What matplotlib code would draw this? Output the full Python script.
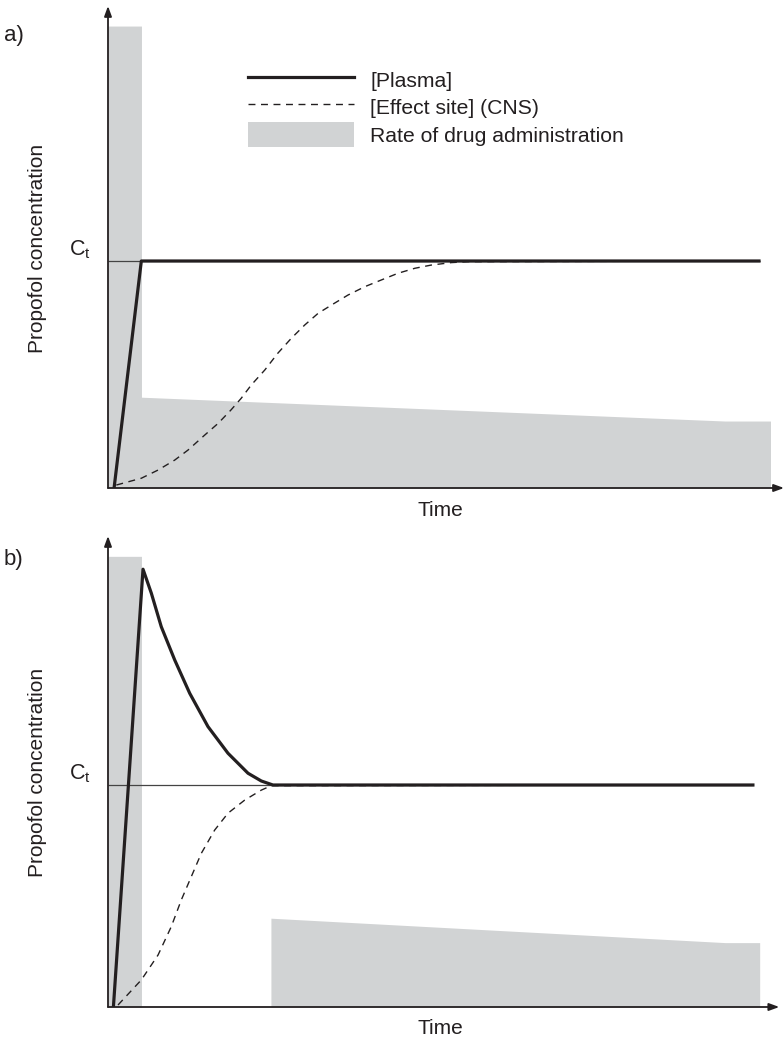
import matplotlib
matplotlib.use("Agg")
import matplotlib.pyplot as plt
from matplotlib.lines import Line2D
from matplotlib.patches import Patch

plt.rcParams['font.family'] = ['Liberation Sans', 'DejaVu Sans']
plt.rcParams['mathtext.fontset'] = 'custom'
plt.rcParams['mathtext.rm'] = 'Liberation Sans'
plt.rcParams['mathtext.it'] = 'Liberation Sans'

INK = '#231f20'
GREY = '#d1d3d4'

# ---- data (time in arbitrary units, concentration relative to Ct = 1) ----
ct = 1.0

# panel a: bolus then infusion
a_rate_t = [0, 4.95, 4.95, 91.3, 98.0]
a_rate_r = [2.035, 2.035, 0.40, 0.295, 0.295]
a_plasma_t = [0.9, 4.93, 96.3]
a_plasma_c = [0.0, 1.0, 1.0]
a_effect_t = [1.23, 4.93, 7.40, 9.87, 11.83, 14.3, 16.3, 18.2, 19.7, 21.2, 23.2, 25.1,
              27.1, 29.1, 31.1, 33.5, 35.5, 38.0, 40.4, 42.9, 45.4, 47.8, 50.8, 53.3, 96.5]
a_effect_c = [0.013, 0.043, 0.079, 0.123, 0.167, 0.233, 0.285, 0.344, 0.395, 0.454, 0.520,
              0.593, 0.659, 0.718, 0.770, 0.814, 0.850, 0.887, 0.916, 0.946, 0.968, 0.982,
              0.993, 0.997, 1.0]
a_ct_end = 96.5

# panel b: larger bolus, pause, then infusion
b_rate_t = [0, 4.95, 4.95, 24.1, 24.1, 91.3, 96.4]
b_rate_r = [2.03, 2.03, 0.0, 0.0, 0.40, 0.29, 0.29]
b_plasma_t = [0.8, 5.18, 6.41, 7.88, 9.87, 12.09, 14.79, 17.75, 20.71, 22.68, 24.4, 95.4]
b_plasma_c = [0.0, 1.972, 1.864, 1.713, 1.563, 1.413, 1.263, 1.143, 1.053, 1.018, 1.0, 1.0]
b_effect_t = [1.48, 4.93, 7.40, 9.36, 10.84, 12.32, 13.80, 15.78, 17.75, 20.22, 22.68,
              24.16, 95.4]
b_effect_c = [0.009, 0.122, 0.234, 0.362, 0.482, 0.587, 0.692, 0.797, 0.873, 0.932, 0.977,
              0.997, 1.0]
b_ct_end = 95.4

W, H = 784, 1039
fig = plt.figure(figsize=(W / 100, H / 100), dpi=100)


def px_axes(left, top, right, bottom):
    return fig.add_axes([left / W, 1 - bottom / H, (right - left) / W, (bottom - top) / H])


def draw_panel(ax, rate_t, rate_r, plasma_t, plasma_c, effect_t, effect_c, ct_end,
               ytop, xarrow):
    ax.set_xlim(0, 100)
    ax.set_ylim(0, ytop)
    for s in ax.spines.values():
        s.set_visible(False)
    ax.set_xticks([])
    ax.set_yticks([])
    ax.patch.set_alpha(0)

    ax.fill_between(rate_t, 0, rate_r, color=GREY, lw=0, zorder=1)
    ax.hlines(ct, 0, ct_end, color='#444444', lw=0.9, zorder=2)
    ax.plot(effect_t, effect_c, color=INK, lw=1.0, ls=(0, (5, 4)), zorder=3)
    ax.plot(plasma_t, plasma_c, color=INK, lw=2.3, solid_joinstyle='round', zorder=4)

    arrow = dict(arrowstyle='-|>,head_length=0.6,head_width=0.22', color=INK,
                 lw=1.3, shrinkA=0, shrinkB=0)
    ax.annotate('', xy=(0, 1), xytext=(0, 0), xycoords='axes fraction',
                arrowprops=arrow, annotation_clip=False)
    ax.annotate('', xy=(xarrow, 0), xytext=(0, 0), xycoords='axes fraction',
                arrowprops=arrow, annotation_clip=False)

    ax.set_ylabel('Propofol concentration', fontsize=15, color=INK)
    ax.yaxis.set_label_coords(-0.090, 0.497)
    ax.set_xlabel('Time', fontsize=15, color=INK)
    ax.xaxis.set_label_coords(0.491, -0.046)
    ax.xaxis.label.set_va('center')
    ax.text(-0.041, ct, r'$\mathrm{C_t}$', transform=ax.get_yaxis_transform(),
            ha='center', va='bottom', fontsize=15.5, color=INK)


ax_a = px_axes(108, 6, 784, 488)
draw_panel(ax_a, a_rate_t, a_rate_r, a_plasma_t, a_plasma_c, a_effect_t, a_effect_c,
           a_ct_end, (488 - 6) / 227, 1.0)

ax_b = px_axes(108, 536, 784, 1007)
draw_panel(ax_b, b_rate_t, b_rate_r, b_plasma_t, b_plasma_c, b_effect_t, b_effect_c,
           b_ct_end, (1007 - 536) / 222, 0.993)

fig.text(4 / W, 1 - 35 / H, 'a)', fontsize=16, color=INK, va='center')
fig.text(4 / W, 1 - 560 / H, 'b)', fontsize=16, color=INK, va='center')

handles = [Line2D([], [], color=INK, lw=2.3),
           Line2D([], [], color=INK, lw=1.0, ls=(0, (5, 4))),
           Patch(facecolor=GREY, edgecolor='none')]
labels = ['[Plasma]', '[Effect site] (CNS)', 'Rate of drug administration']
ax_a.legend(handles, labels, loc='upper left', frameon=False, fontsize=15.2,
            bbox_to_anchor=(248 / W, 1 - 67 / H), bbox_transform=fig.transFigure,
            borderpad=0, borderaxespad=0, handlelength=5.0, handleheight=1.45,
            handletextpad=0.8, labelspacing=0.12, labelcolor=INK)

fig.savefig('out.png', dpi=100)
